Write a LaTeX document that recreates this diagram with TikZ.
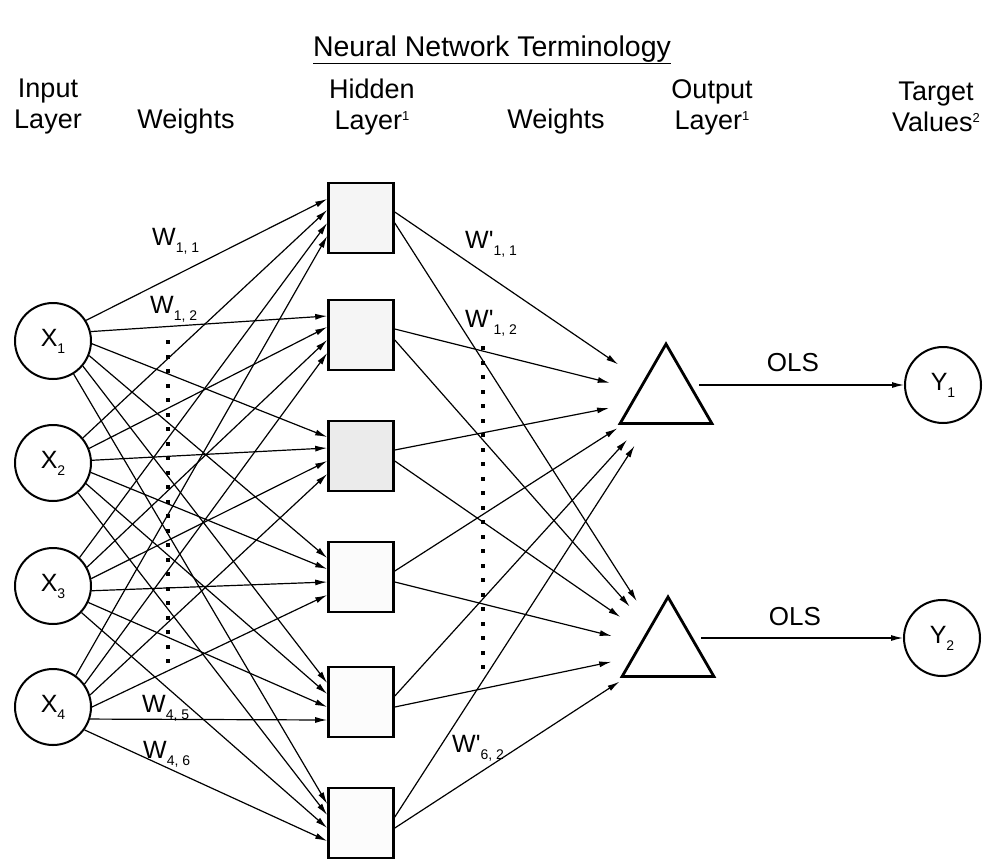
\documentclass[tikz,border=0pt]{standalone}
\usepackage{fontspec}
\setmainfont{Liberation Sans}
\usetikzlibrary{arrows.meta,shapes.geometric}
\newcommand{\lowsub}[2]{#1\raisebox{-7pt}{\fontsize{14}{14}\selectfont #2}}
\newcommand{\upsup}[1]{\raisebox{9pt}{\fontsize{13}{13}\selectfont #1}}

\begin{document}
\begin{tikzpicture}[x=1pt,y=-1pt,
  hdr/.style={font=\fontsize{27}{31}\selectfont, align=center, inner sep=0pt},
  lbl/.style={font=\fontsize{25}{29}\selectfont, inner sep=0pt, anchor=base west},
  unit/.style={circle, draw, line width=2pt, minimum size=76pt, inner sep=0pt, font=\fontsize{25}{29}\selectfont},
  hid/.style={rectangle, draw, line width=2.6pt, minimum width=65pt, minimum height=70pt, inner sep=0pt},
  outp/.style={regular polygon, regular polygon sides=3, draw, line width=2.8pt, minimum size=106pt, inner sep=0pt},
  wt/.style={line width=1.2pt, -{Latex[length=12pt,width=6pt]}},
  dots/.style={line width=3.4pt, dash pattern=on 0.4pt off 14.1pt, line cap=rect}]
        \useasboundingbox (0,0) rectangle (985,860);
        \node[font=\fontsize{28.5}{32}\selectfont] (ttl) at (492,50) {\underline{Neural Network Terminology}};
        \node[hdr] (hin) at (48,107) {Input\\Layer};
        \node[hdr] (hw1) at (186,122) {Weights};
        \node[hdr] (hhid) at (372,107) {Hidden\\Layer\upsup{1}};
        \node[hdr] (hw2) at (556,122) {Weights};
        \node[hdr] (hout) at (712,107) {Output\\Layer\upsup{1}};
        \node[hdr] (htg) at (936,107) {Target\\Values\upsup{2}};
        % input layer
        \node[unit] (x1) at (53,341) {\lowsub{X}{1}};
        \node[unit] (x2) at (53,463) {\lowsub{X}{2}};
        \node[unit] (x3) at (53,586) {\lowsub{X}{3}};
        \node[unit] (x4) at (53,707) {\lowsub{X}{4}};
        % hidden layer
        \node[hid, fill=gray!8] (h1) at (361,218) {};
        \node[hid, fill=gray!8] (h2) at (361,335) {};
        \node[hid, fill=gray!16] (h3) at (361,456) {};
        \node[hid, fill=gray!3] (h4) at (361,577) {};
        \node[hid, fill=gray!2] (h5) at (361,702) {};
        \node[hid, fill=gray!2] (h6) at (361,823) {};
        % output layer and targets
        \node[outp] (o1) at (666,397) {};
        \node[outp] (o2) at (668,650) {};
        \node[unit] (y1) at (943,385) {\lowsub{Y}{1}};
        \node[unit] (y2) at (942,638) {\lowsub{Y}{2}};
        \coordinate (o1r) at ([xshift=33pt]o1.center);
        \coordinate (o2r) at ([xshift=33pt]o2.center);
        \foreach \i/\st/\dy in {1/32/19pt,2/40/8pt,3/47/-5pt,4/54/-18pt} {
          \foreach \j in {1,...,6} {
            \pgfmathtruncatemacro{\ang}{\st-18*(\j-1)}
            \draw[wt] (x\i.\ang) -- ([yshift=\dy]h\j.west);
          }
        }
        \foreach \j in {1,...,6} {
          \draw[wt, shorten >=58pt] ([yshift=6pt]h\j.east) -- (o1.center);
          \draw[wt, shorten >=58pt] ([yshift=-5pt]h\j.east) -- (o2.center);
        }
        \draw[wt] (o1r |- y1.west) -- (y1.west);
        \draw[wt] (o2r |- y2.west) -- (y2.west);
        \node[font=\fontsize{26}{30}\selectfont] (ols1) at (793,363) {OLS};
        \node[font=\fontsize{26}{30}\selectfont] (ols2) at (795,617) {OLS};
        \draw[dots] (168,342) -- (168,670);
        \draw[dots] (483,348) -- (483,675);
        \node[lbl] (w11) at (152,245) {\lowsub{W}{1, 1}};
        \node[lbl] (w12) at (150,313) {\lowsub{W}{1, 2}};
        \node[lbl] (w45) at (142,712) {\lowsub{W}{4, 5}};
        \node[lbl] (w46) at (143,758) {\lowsub{W}{4, 6}};
        \node[lbl] (v11) at (465,248) {\lowsub{W\textquotesingle}{1, 1}};
        \node[lbl] (v12) at (465,327) {\lowsub{W\textquotesingle}{1, 2}};
        \node[lbl] (v62) at (452,752) {\lowsub{W\textquotesingle}{6, 2}};
\end{tikzpicture}
\end{document}
